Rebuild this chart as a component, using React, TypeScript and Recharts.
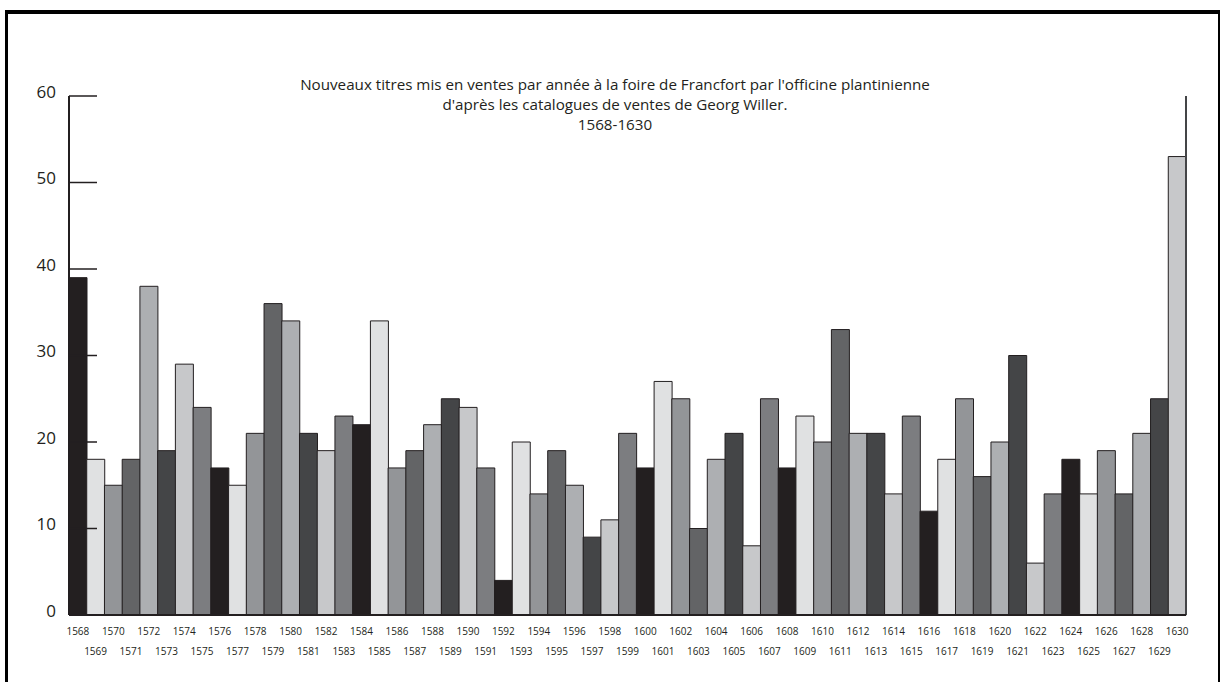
import { BarChart, Bar, XAxis, YAxis, Cell } from "recharts";

const years = [
  "1568", "1569", "1570", "1571", "1572", "1573", "1574", "1575", "1576", "1577",
  "1578", "1579", "1580", "1581", "1582", "1583", "1584", "1585", "1586", "1587",
  "1588", "1589", "1590", "1591", "1592", "1593", "1594", "1595", "1596", "1597",
  "1598", "1599", "1600", "1601", "1602", "1603", "1604", "1605", "1606", "1607",
  "1608", "1609", "1610", "1611", "1612", "1613", "1614", "1615", "1616", "1617",
  "1618", "1619", "1620", "1621", "1622", "1623", "1624", "1625", "1626", "1627",
  "1628", "1629", "1630",
];

// new titles per year
const titles = [
  39, 18, 15, 18, 38, 19, 29, 24, 17, 15,
  21, 36, 34, 21, 19, 23, 22, 34, 17, 19,
  22, 25, 24, 17, 4, 20, 14, 19, 15, 9,
  11, 21, 17, 27, 25, 10, 18, 21, 8, 25,
  17, 23, 20, 33, 21, 21, 14, 23, 12, 18,
  25, 16, 20, 30, 6, 14, 18, 14, 19, 14,
  21, 25, 53,
];

const yTicks = [0, 10, 20, 30, 40, 50, 60];

const titleLines = [
  "Nouveaux titres mis en ventes par année à la foire de Francfort par l'officine plantinienne",
  "d'après les catalogues de ventes de Georg Willer.",
  "1568-1630",
];

const palette = ["#231f20", "#e0e1e2", "#939598", "#636466", "#adafb2", "#444547", "#c7c8ca", "#7c7d80"];

const data = years.map((year, i) => ({ year, titles: titles[i] }));

const INK = "#231f20";
const FONT = "'Open Sans', sans-serif";

function YTick(props: any) {
  const { x, y, payload } = props;
  return (
    <g>
      <line x1={x} y1={y} x2={x + 28} y2={y} stroke={INK} strokeWidth={1.5} />
      <text x={x - 13} y={y - 5} textAnchor="end" dominantBaseline="central" fontSize={17} fill={INK} fontFamily={FONT}>
        {payload.value}
      </text>
    </g>
  );
}

function XTick(props: any) {
  const { x, y, payload } = props;
  const idx = years.indexOf(String(payload.value));
  const row = idx % 2 === 0 ? 16 : 36;
  return (
    <text x={x} y={y + row} textAnchor="middle" dominantBaseline="central" fontSize={10} fill={INK} fontFamily={FONT}>
      {payload.value}
    </text>
  );
}

export default function App() {
  return (
    <div style={{ position: "absolute", left: 0, top: 0, width: 1220, height: 682, background: "#fff", overflow: "hidden" }}>
      {/* frame */}
      <div
        style={{
          position: "absolute", left: 5, top: 10, width: 1215, height: 672, boxSizing: "border-box",
          borderTop: "4px solid #000", borderLeft: "3px solid #000", borderRight: "2px solid #000",
        }}
      />

      <div style={{ position: "absolute", left: 265, top: 74, width: 700, textAlign: "center", fontFamily: FONT, fontSize: 15.2, lineHeight: "20px", color: INK }}>
        {titleLines.map(t => (
          <div key={t} style={{ whiteSpace: "nowrap" }}>{t}</div>
        ))}
      </div>

      <div style={{ position: "absolute", left: 0, top: 0 }}>
        <BarChart width={1220} height={682} data={data} margin={{ top: 96, right: 32, bottom: 17, left: 0 }} barCategoryGap={0}>
          <YAxis
            yAxisId="left"
            domain={[0, 60]}
            ticks={yTicks}
            width={69}
            tickSize={0}
            tickMargin={0}
            tickLine={false}
            axisLine={{ stroke: INK, strokeWidth: 2 }}
            tick={<YTick />}
            zIndex={-1}
          />
          <YAxis
            yAxisId="right"
            orientation="right"
            domain={[0, 60]}
            width={2}
            tick={false}
            tickLine={false}
            axisLine={{ stroke: "#444547", strokeWidth: 2 }}
          />
          <XAxis
            dataKey="year"
            interval={0}
            height={50}
            tickSize={0}
            tickMargin={0}
            tickLine={false}
            axisLine={{ stroke: INK, strokeWidth: 2 }}
            tick={<XTick />}
          />
          <Bar yAxisId="left" dataKey="titles" stroke={INK} strokeWidth={1} isAnimationActive={false}>
            {data.map((d, i) => (
              <Cell key={d.year} fill={palette[i % palette.length]} />
            ))}
          </Bar>
        </BarChart>
      </div>
    </div>
  );
}
